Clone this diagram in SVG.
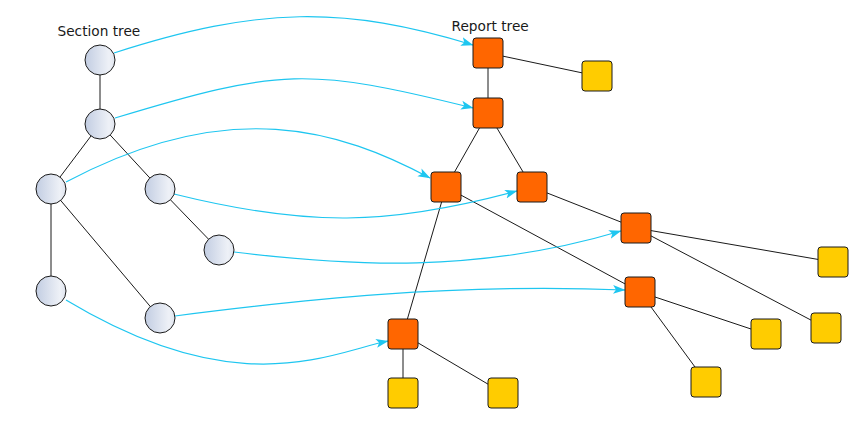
<svg xmlns="http://www.w3.org/2000/svg" width="863" height="423" viewBox="0 0 863 423">
<defs>
<linearGradient id="cg" x1="0" y1="0" x2="1" y2="0">
<stop offset="0" stop-color="#c2cde2"/>
<stop offset="0.8" stop-color="#eef1f7"/>
<stop offset="1" stop-color="#dfe4ee"/>
</linearGradient>
<marker id="arr" markerWidth="14" markerHeight="10" refX="12" refY="5" orient="auto" markerUnits="userSpaceOnUse">
<path d="M0,0.6 L12.5,5 L0,9.4 L3,5 z" fill="#1ec6f0"/>
</marker>
<style>
.edge{stroke:#1a1a1a;stroke-width:1;fill:none}
.map{stroke:#1ec6f0;stroke-width:1.2;fill:none;marker-end:url(#arr)}
.sec{fill:url(#cg);stroke:#1a1a1a;stroke-width:1}
.rep{fill:#ff6600;stroke:#1a1a1a;stroke-width:1}
.leaf{fill:#ffcc00;stroke:#1a1a1a;stroke-width:1}
.lbl{font-family:"DejaVu Sans",sans-serif;font-size:13.7px;fill:#1a1a1a}
</style>
</defs>
<rect width="863" height="423" fill="#ffffff"/>
<text class="lbl" x="57.5" y="35.5">Section tree</text>
<text class="lbl" x="451.5" y="30.5">Report tree</text>
<g id="connectors">
<line class="edge" x1="100" y1="60" x2="100" y2="124"/>
<line class="edge" x1="100" y1="124" x2="51" y2="189"/>
<line class="edge" x1="100" y1="124" x2="160" y2="189"/>
<line class="edge" x1="51" y1="189" x2="51" y2="291"/>
<line class="edge" x1="51" y1="189" x2="160" y2="318"/>
<line class="edge" x1="160" y1="189" x2="219" y2="250"/>
<line class="edge" x1="488" y1="53" x2="488" y2="113"/>
<line class="edge" x1="488" y1="53" x2="597" y2="76"/>
<line class="edge" x1="488" y1="113" x2="446" y2="187"/>
<line class="edge" x1="488" y1="113" x2="532" y2="187"/>
<line class="edge" x1="446" y1="187" x2="403" y2="334"/>
<line class="edge" x1="446" y1="187" x2="640" y2="292"/>
<line class="edge" x1="532" y1="187" x2="636" y2="228"/>
<line class="edge" x1="636" y1="228" x2="833" y2="262"/>
<line class="edge" x1="636" y1="228" x2="826" y2="328"/>
<line class="edge" x1="640" y1="292" x2="766" y2="334"/>
<line class="edge" x1="640" y1="292" x2="706" y2="382"/>
<line class="edge" x1="403" y1="334" x2="403" y2="393"/>
<line class="edge" x1="403" y1="334" x2="503" y2="393"/>
<path class="map" d="M114,53 C260,6 344,6 473,45"/>
<path class="map" d="M115,118 C280,68 308,67 473,108"/>
<path class="map" d="M66,182 C230,95 340,130 430,178"/>
<path class="map" d="M174,194 C307,227 388,226 517,191"/>
<path class="map" d="M234,252 C350,266 477,274 621,231"/>
<path class="map" d="M175,316 C300,300 450,283 625,290"/>
<path class="map" d="M66,300 C239,404 330,353 388,341"/>
</g>
<g id="s1"><circle class="sec" cx="100" cy="60" r="15"/></g>
<g id="s2"><circle class="sec" cx="100" cy="124" r="15"/></g>
<g id="s3"><circle class="sec" cx="51" cy="189" r="15"/></g>
<g id="s4"><circle class="sec" cx="160" cy="189" r="15"/></g>
<g id="s5"><circle class="sec" cx="219" cy="250" r="15"/></g>
<g id="s6"><circle class="sec" cx="51" cy="291" r="15"/></g>
<g id="s7"><circle class="sec" cx="160" cy="318" r="15"/></g>
<g id="r1"><rect class="rep" x="473" y="38" width="30" height="30" rx="3"/></g>
<g id="r2"><rect class="rep" x="473" y="98" width="30" height="30" rx="3"/></g>
<g id="r3"><rect class="rep" x="431" y="172" width="30" height="30" rx="3"/></g>
<g id="r4"><rect class="rep" x="517" y="172" width="30" height="30" rx="3"/></g>
<g id="r5"><rect class="rep" x="621" y="213" width="30" height="30" rx="3"/></g>
<g id="r6"><rect class="rep" x="625" y="277" width="30" height="30" rx="3"/></g>
<g id="r7"><rect class="rep" x="388" y="319" width="30" height="30" rx="3"/></g>
<g id="l1"><rect class="leaf" x="582" y="61" width="30" height="30" rx="3"/></g>
<g id="l2"><rect class="leaf" x="818" y="247" width="30" height="30" rx="3"/></g>
<g id="l3"><rect class="leaf" x="811" y="313" width="30" height="30" rx="3"/></g>
<g id="l4"><rect class="leaf" x="751" y="319" width="30" height="30" rx="3"/></g>
<g id="l5"><rect class="leaf" x="691" y="367" width="30" height="30" rx="3"/></g>
<g id="l6"><rect class="leaf" x="388" y="378" width="30" height="30" rx="3"/></g>
<g id="l7"><rect class="leaf" x="488" y="378" width="30" height="30" rx="3"/></g>
</svg>
